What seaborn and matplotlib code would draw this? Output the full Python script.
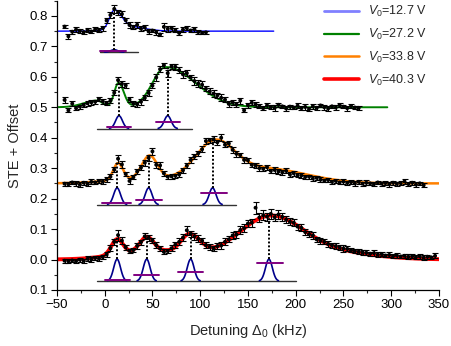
import numpy as np
import pandas as pd
import seaborn as sns
import matplotlib.pyplot as plt
from matplotlib.lines import Line2D
from matplotlib.ticker import MultipleLocator

# === measured STE points (already offset), x grid = start + step*i (kHz) ===
step = 4
blue_x0, green_x0, orange_x0, red_x0 = -42, -42, -42, -42

blue_y = [0.765, 0.733, 0.748, 0.755, 0.751, 0.747, 0.754, 0.749, 0.756, 0.753,
          0.760, 0.785, 0.803, 0.823, 0.812, 0.806, 0.786, 0.770, 0.764, 0.771,
          0.758, 0.762, 0.749, 0.752, 0.746, 0.739, 0.764, 0.758, 0.760, 0.753,
          0.744, 0.755, 0.760, 0.752, 0.756, 0.747, 0.744, 0.746]
blue_err = [0.006, 0.008, 0.006, 0.007, 0.006, 0.005, 0.007, 0.006, 0.006, 0.007,
            0.008, 0.009, 0.010, 0.012, 0.009, 0.010, 0.008, 0.009, 0.007, 0.010,
            0.008, 0.009, 0.007, 0.006, 0.008, 0.006, 0.014, 0.010, 0.008, 0.007,
            0.006, 0.008, 0.007, 0.006, 0.008, 0.006, 0.005, 0.006]

green_y = [0.524, 0.490, 0.512, 0.497, 0.502, 0.507, 0.513, 0.516, 0.518, 0.527,
           0.519, 0.514, 0.522, 0.548, 0.589, 0.577, 0.572, 0.525, 0.512, 0.510,
           0.518, 0.531, 0.547, 0.571, 0.598, 0.625, 0.638, 0.612, 0.634, 0.633,
           0.622, 0.608, 0.612, 0.598, 0.586, 0.578, 0.574, 0.561, 0.552, 0.545,
           0.539, 0.531, 0.525, 0.511, 0.516, 0.509, 0.522, 0.490, 0.507, 0.515,
           0.509, 0.503, 0.497, 0.506, 0.501, 0.498, 0.508, 0.503, 0.496, 0.502,
           0.499, 0.505, 0.497, 0.501, 0.494, 0.503, 0.498, 0.506, 0.500, 0.496,
           0.503, 0.499, 0.507, 0.502, 0.497, 0.504, 0.499, 0.498]
green_err = [0.010, 0.007, 0.008, 0.006, 0.007, 0.006, 0.008, 0.007, 0.006, 0.008,
             0.007, 0.008, 0.007, 0.009, 0.012, 0.010, 0.009, 0.008, 0.007, 0.008,
             0.009, 0.008, 0.010, 0.009, 0.011, 0.010, 0.009, 0.012, 0.008, 0.010,
             0.009, 0.011, 0.010, 0.009, 0.012, 0.010, 0.011, 0.009, 0.010, 0.012,
             0.009, 0.011, 0.008, 0.010, 0.009, 0.008, 0.010, 0.007, 0.008, 0.009,
             0.008, 0.007, 0.006, 0.008, 0.007, 0.009, 0.007, 0.006, 0.008, 0.007,
             0.006, 0.008, 0.007, 0.009, 0.006, 0.008, 0.007, 0.006, 0.008, 0.007,
             0.006, 0.009, 0.007, 0.006, 0.008, 0.007, 0.006, 0.007]

orange_y = [0.249, 0.247, 0.253, 0.250, 0.246, 0.252, 0.249, 0.255, 0.253, 0.258,
            0.256, 0.263, 0.272, 0.295, 0.331, 0.312, 0.281, 0.258, 0.270, 0.289,
            0.302, 0.318, 0.334, 0.355, 0.311, 0.309, 0.283, 0.272, 0.273, 0.275,
            0.279, 0.293, 0.308, 0.327, 0.338, 0.349, 0.362, 0.389, 0.392, 0.395,
            0.385, 0.400, 0.377, 0.381, 0.360, 0.347, 0.343, 0.327, 0.326, 0.311,
            0.309, 0.300, 0.298, 0.303, 0.291, 0.294, 0.289, 0.286, 0.291, 0.279,
            0.283, 0.277, 0.276, 0.271, 0.272, 0.266, 0.268, 0.262, 0.259, 0.261,
            0.255, 0.258, 0.253, 0.256, 0.252, 0.254, 0.250, 0.255, 0.249, 0.252,
            0.250, 0.248, 0.253, 0.249, 0.251, 0.247, 0.252, 0.249, 0.251, 0.256,
            0.248, 0.252, 0.246, 0.250, 0.244]
orange_err = [0.006, 0.007, 0.006, 0.008, 0.007, 0.006, 0.007, 0.008, 0.006, 0.007,
              0.008, 0.007, 0.008, 0.009, 0.013, 0.010, 0.008, 0.009, 0.007, 0.008,
              0.009, 0.010, 0.009, 0.011, 0.010, 0.012, 0.008, 0.007, 0.008, 0.007,
              0.008, 0.009, 0.008, 0.010, 0.009, 0.008, 0.010, 0.009, 0.008, 0.010,
              0.009, 0.011, 0.008, 0.009, 0.010, 0.009, 0.008, 0.009, 0.008, 0.007,
              0.008, 0.009, 0.007, 0.008, 0.007, 0.009, 0.008, 0.007, 0.008, 0.007,
              0.008, 0.007, 0.008, 0.007, 0.006, 0.008, 0.007, 0.008, 0.006, 0.007,
              0.006, 0.007, 0.006, 0.008, 0.007, 0.006, 0.007, 0.006, 0.007, 0.008,
              0.006, 0.007, 0.006, 0.007, 0.006, 0.008, 0.007, 0.006, 0.007, 0.008,
              0.007, 0.006, 0.007, 0.006, 0.007]

red_y = [-0.004, -0.006, -0.003, -0.005, -0.001, -0.004, 0.002, 0.000, 0.005, 0.003,
         0.008, 0.016, 0.037, 0.058, 0.080, 0.062, 0.040, 0.028, 0.031, 0.045,
         0.057, 0.076, 0.071, 0.063, 0.047, 0.036, 0.025, 0.028, 0.037, 0.049,
         0.058, 0.072, 0.096, 0.084, 0.076, 0.068, 0.062, 0.047, 0.042, 0.036,
         0.044, 0.046, 0.058, 0.066, 0.079, 0.082, 0.097, 0.103, 0.118, 0.121,
         0.170, 0.138, 0.145, 0.141, 0.150, 0.139, 0.148, 0.140, 0.131, 0.124,
         0.121, 0.108, 0.104, 0.090, 0.083, 0.079, 0.066, 0.062, 0.058, 0.051,
         0.047, 0.044, 0.040, 0.036, 0.035, 0.030, 0.028, 0.026, 0.023, 0.022,
         0.019, 0.021, 0.016, 0.018, 0.013, 0.015, 0.011, 0.013, 0.010, 0.012,
         0.009, 0.011, 0.008, 0.010, 0.006, 0.009, 0.007, 0.012]
red_err = [0.006, 0.007, 0.006, 0.008, 0.007, 0.006, 0.008, 0.007, 0.006, 0.008,
           0.007, 0.008, 0.009, 0.010, 0.018, 0.012, 0.009, 0.008, 0.007, 0.009,
           0.008, 0.010, 0.009, 0.008, 0.009, 0.007, 0.008, 0.008, 0.009, 0.010,
           0.011, 0.012, 0.014, 0.010, 0.012, 0.011, 0.010, 0.009, 0.010, 0.009,
           0.011, 0.010, 0.012, 0.010, 0.011, 0.012, 0.013, 0.012, 0.011, 0.013,
           0.020, 0.014, 0.016, 0.013, 0.017, 0.012, 0.015, 0.013, 0.012, 0.011,
           0.012, 0.010, 0.011, 0.010, 0.009, 0.011, 0.009, 0.010, 0.008, 0.009,
           0.008, 0.009, 0.008, 0.010, 0.008, 0.007, 0.008, 0.009, 0.007, 0.008,
           0.007, 0.009, 0.008, 0.007, 0.006, 0.008, 0.007, 0.008, 0.006, 0.007,
           0.008, 0.007, 0.006, 0.007, 0.008, 0.007, 0.006, 0.008]

# === fit parameters: peak centre, amplitude, left / right width (kHz) ===
blue_cen, blue_amp = [10, 20], [0.057, 0.018]
blue_sl, blue_sr = [5, 12], [7, 18]
green_cen, green_amp = [-8, 14.5, 64], [0.022, 0.08, 0.132]
green_sl, green_sr = [14, 4.5, 14], [6, 5.5, 31]
orange_cen, orange_amp = [40, 14, 47, 115, 165], [0.015, 0.055, 0.075, 0.115, 0.05]
orange_sl, orange_sr = [35, 5, 8, 20, 45], [35, 5, 8, 20, 45]
red_cen, red_amp = [50, 13, 44, 89, 172, 220], [0.03, 0.05, 0.045, 0.062, 0.125, 0.03]
red_sl, red_sr = [35, 6, 7, 9, 33, 50], [35, 6, 7, 11, 33, 50]

offsets = [0.75, 0.5, 0.25, 0.0]
fit_end = [177, 296, 350, 350]
labels = ["$V_0$=12.7 V", "$V_0$=27.2 V", "$V_0$=33.8 V", "$V_0$=40.3 V"]
fit_colors = ["#0000ff", "#008000", "#ff8000", "#ff0000"]
legend_colors = ["#8080ff", "#008000", "#ff8000", "#ff0000"]
fit_widths = [1.0, 1.4, 1.8, 2.8]

# === calculated line spectra below each trace ===
blue_lines, green_lines = [10], [15, 66]
orange_lines, red_lines = [13, 46, 113], [13, 44, 90, 172]
stick_base = [0.681, 0.43, 0.18, -0.071]
stick_height = [0.008, 0.042, 0.055, 0.072]
stick_span = [(-5, 35), (-8, 91), (-8, 137), (-8, 200)]
blue_bar_y, blue_bar_l, blue_bar_r = [0.684], [-5], [22]
green_bar_y, green_bar_l, green_bar_r = [0.436, 0.453], [2, 54], [28, 79]
orange_bar_y, orange_bar_l, orange_bar_r = [0.185, 0.196, 0.217], [-3, 33, 101], [28, 60, 128]
red_bar_y, red_bar_l, red_bar_r = [-0.066, -0.052, -0.04, -0.01], [0, 31, 77, 159], [26, 57, 103, 187]
blue_top, green_top = [0.82], [0.585, 0.632]
orange_top, red_top = [0.322, 0.338, 0.393], [0.072, 0.075, 0.085, 0.145]


def asym_gauss(x, cen, amp, sl, sr):
    out = np.zeros_like(x)
    for c, a, l, r in zip(cen, amp, sl, sr):
        s = np.where(x < c, l, r)
        out += a * np.exp(-(x - c) ** 2 / (2.0 * s ** 2))
    return out


sns.set_style("ticks")
plt.rcParams["font.family"] = ["Liberation Sans", "DejaVu Sans"]
plt.rcParams["mathtext.fontset"] = "custom"
plt.rcParams["mathtext.rm"] = "Liberation Sans"
plt.rcParams["mathtext.it"] = "Liberation Sans:italic"

fig = plt.figure(figsize=(4.52, 3.46), dpi=100)
ax = fig.add_axes([0.126, 0.162, 0.845, 0.836])

series = [
    (blue_y, blue_err, blue_x0, (blue_cen, blue_amp, blue_sl, blue_sr),
     blue_lines, (blue_bar_y, blue_bar_l, blue_bar_r), blue_top),
    (green_y, green_err, green_x0, (green_cen, green_amp, green_sl, green_sr),
     green_lines, (green_bar_y, green_bar_l, green_bar_r), green_top),
    (orange_y, orange_err, orange_x0, (orange_cen, orange_amp, orange_sl, orange_sr),
     orange_lines, (orange_bar_y, orange_bar_l, orange_bar_r), orange_top),
    (red_y, red_err, red_x0, (red_cen, red_amp, red_sl, red_sr),
     red_lines, (red_bar_y, red_bar_l, red_bar_r), red_top),
]

for i, (ys, errs, x0, pars, lines, bars, tops) in enumerate(series):
    # fit curve
    xf = np.linspace(-50, fit_end[i], 600)
    fit = pd.DataFrame({"x": xf, "y": offsets[i] + asym_gauss(xf, *pars)})
    sns.lineplot(data=fit, x="x", y="y", ax=ax, color=fit_colors[i],
                 lw=fit_widths[i], zorder=2)

    # stick spectrum
    base, h = stick_base[i], stick_height[i]
    ax.plot(stick_span[i], [base, base], color="#333333", lw=1.0, zorder=3)
    for c, top in zip(lines, tops):
        xs = np.linspace(c - 10, c + 10, 80)
        ax.plot(xs, base + h * np.exp(-(xs - c) ** 2 / (2 * 3.6 ** 2)),
                color="#00008b", lw=1.2, zorder=4)
        ax.plot([c, c], [base + h, top], color="black", ls=(0, (1, 1)),
                lw=1.4, zorder=5)
    for by, bl, br in zip(*bars):
        ax.plot([bl, br], [by, by], color="#800080", lw=1.4, zorder=4)

    # data
    xd = x0 + step * np.arange(len(ys))
    pts = pd.DataFrame({"x": xd, "y": ys, "err": errs})
    ax.errorbar(pts["x"], pts["y"], yerr=pts["err"], fmt="none", ecolor="black",
                elinewidth=0.8, capsize=2.5, capthick=0.8, zorder=6)
    sns.scatterplot(data=pts, x="x", y="y", ax=ax, color="black", s=8,
                    edgecolor="none", zorder=7)

ax.set_xlim(-50, 350)
ax.set_ylim(-0.1, 0.85)
ax.xaxis.set_major_locator(MultipleLocator(50))
ax.xaxis.set_minor_locator(MultipleLocator(25))
yt = [-0.1, 0.0, 0.1, 0.2, 0.3, 0.4, 0.5, 0.6, 0.7, 0.8]
ax.set_yticks(yt)
ax.set_yticklabels(["0.1", "0.0", "0.1", "0.2", "0.3", "0.4", "0.5", "0.6", "0.7", "0.8"])
ax.yaxis.set_minor_locator(MultipleLocator(0.05))
ax.tick_params(which="major", direction="out", length=4, width=0.8, labelsize=9.5,
               colors="black", pad=2.5)
ax.tick_params(which="minor", direction="out", length=2.5, width=0.8)
sns.despine(ax=ax)
for s in ["left", "bottom"]:
    ax.spines[s].set_linewidth(0.9)
    ax.spines[s].set_color("black")

ax.set_xlabel("Detuning Δ$_0$ (kHz)", fontsize=10.5, labelpad=8)
ax.set_ylabel("STE + Offset", fontsize=10.5, labelpad=5)

handles = [Line2D([], [], color=c, lw=w) for c, w in zip(legend_colors, [2, 1.6, 1.8, 2.6])]
ax.legend(handles, labels, loc="upper left", bbox_to_anchor=(0.7, 0.988), frameon=False,
          fontsize=9, handlelength=2.8, handletextpad=0.7, labelspacing=0.62,
          borderpad=0, borderaxespad=0)

fig.savefig("out.png", dpi=100)
